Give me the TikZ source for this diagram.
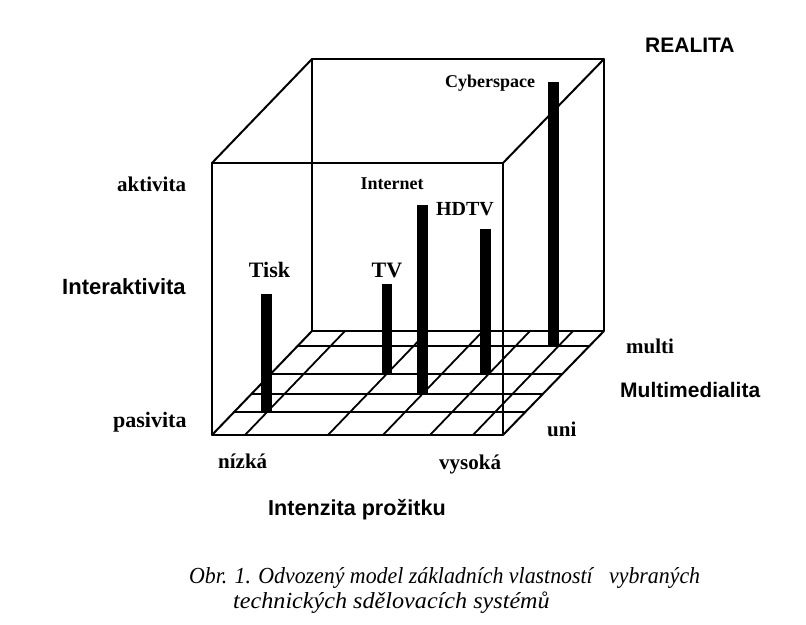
\documentclass[tikz,border=0pt]{standalone}
\usepackage{fontspec}
\setmainfont{Liberation Serif}
\newfontfamily\lsans{Liberation Sans}
\begin{document}
\begin{tikzpicture}[x=1pt,y=-1pt,
  edge/.style={line width=2pt,line cap=round,line join=round},
  gridline/.style={line width=1.8pt,line cap=round},
  bar/.style={fill=black},
  serlab/.style={inner sep=0pt,font=\bfseries\fontsize{21}{24}\selectfont},
  sanlab/.style={inner sep=0pt,font=\lsans\bfseries\fontsize{21}{24}\selectfont},
  caplab/.style={inner sep=0pt,font=\itshape\fontsize{23}{26}\selectfont}]
\useasboundingbox (0,0) rectangle (806,624);
% box corners
\coordinate (FTL) at (212,163);
\coordinate (FTR) at (503,163);
\coordinate (FBL) at (212,435);
\coordinate (FBR) at (503,435);
\coordinate (BTL) at (312,59);
\coordinate (BTR) at (604,59);
\coordinate (BBL) at (312,331);
\coordinate (BBR) at (604,331);
% floor grid: lines parallel to front edge
\foreach \yy [count=\i] in {346,374,394,412}{
  \pgfmathsetmacro{\xl}{212+(435-\yy)*100/104}
  \pgfmathsetmacro{\xr}{503+(435-\yy)*101/104}
  \coordinate (HL\i) at (\xl,\yy);
  \coordinate (HR\i) at (\xr,\yy);
  \draw[gridline] (HL\i) -- (HR\i);
}
% floor grid: depth lines
\foreach \xx [count=\i] in {245,328,383,430,473}{
  \coordinate (DF\i) at (\xx,435);
  \coordinate (DB\i) at (\xx+100,331);
  \draw[gridline] (DF\i) -- (DB\i);
}
% box edges
\draw[edge] (BTL) -- (BTR) -- (BBR) -- (BBL) -- cycle;
\draw[edge] (FTL) -- (FTR) -- (FBR) -- (FBL) -- cycle;
\draw[edge] (FTL) -- (BTL);
\draw[edge] (FTR) -- (BTR);
\draw[edge] (FBR) -- (BBR);
\draw[edge] (FBL) -- (BBL);
% bars
\fill[bar] (261,294) rectangle (272,412);
\fill[bar] (382,284) rectangle (392,374);
\fill[bar] (417,205) rectangle (428,394);
\fill[bar] (480,229) rectangle (491,374);
\fill[bar] (548,82) rectangle (559,347);
% bar labels
\node[serlab,anchor=base,font=\bfseries\fontsize{22}{24}\selectfont] (tisk) at (269.5,277) {Tisk};
\node[serlab,anchor=base,font=\bfseries\fontsize{22}{24}\selectfont] (tv) at (387,277) {TV};
\node[serlab,anchor=base,font=\bfseries\fontsize{18}{20}\selectfont] (internet) at (392,189) {Internet};
\node[serlab,anchor=base,font=\bfseries\fontsize{20}{22}\selectfont] (hdtv) at (465,215) {HDTV};
\node[serlab,anchor=base,font=\bfseries\fontsize{18}{20}\selectfont] (cyber) at (490,87) {Cyberspace};
% axis labels
\node[sanlab,anchor=base west] (realita) at (645,52) {REALITA};
\node[serlab,anchor=base west] (akt) at (117,191) {aktivita};
\node[sanlab,anchor=base west,font=\lsans\bfseries\fontsize{22}{24}\selectfont] (inter) at (62,294) {Interaktivita};
\node[serlab,anchor=base west,font=\bfseries\fontsize{22}{24}\selectfont] (pas) at (113,427) {pasivita};
\node[serlab,anchor=base west] (nizka) at (218,468) {nízká};
\node[serlab,anchor=base west] (vysoka) at (439,469) {vysoká};
\node[serlab,anchor=base west] (uni) at (547,436) {uni};
\node[serlab,anchor=base west] (multi) at (626,353) {multi};
\node[sanlab,anchor=base west] (mm) at (620,397) {Multimedialita};
\node[sanlab,anchor=base west,font=\lsans\bfseries\fontsize{21.6}{24}\selectfont] (intenz) at (268,515) {Intenzita prožitku};
% caption
\node[caplab,anchor=base west] (cap1) at (189,583) {\scalebox{0.95}[1]{Obr. 1. Odvozený model základních vlastností\ \ \ vybraných}};
\node[caplab,anchor=base west] (cap2) at (233,608) {\scalebox{1.05}[1]{technických sdělovacích systémů}};
\end{tikzpicture}
\end{document}
